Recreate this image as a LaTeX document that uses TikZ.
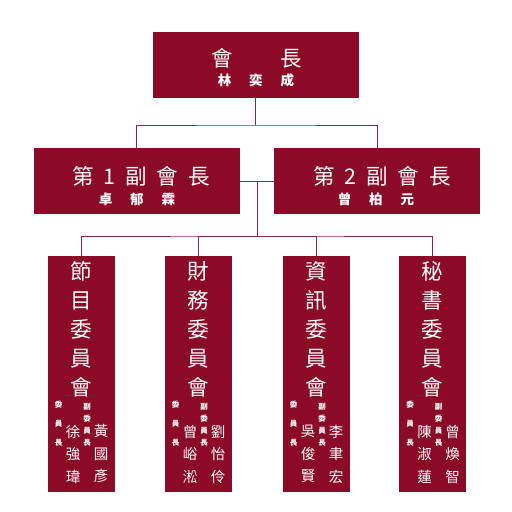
\documentclass[tikz,border=0pt]{standalone}
\usepackage{fontspec}
\setmainfont{Noto Sans CJK TC}
\usepackage{xcolor}
\usepackage{tikz}
\usetikzlibrary{positioning}

\definecolor{boxred}{RGB}{139,10,38}
\definecolor{linecol}{RGB}{125,45,65}

\begin{document}
\begin{tikzpicture}[
      x=1pt, y=-1pt,
      every node/.style={inner sep=0pt, text=white},
      box/.style={fill=boxred, minimum width=206pt, minimum height=66pt},
      cbox/.style={fill=boxred, minimum width=67pt, minimum height=236pt},
      headlbl/.style={font=\fontsize{21.5}{21.5}\selectfont},
      namelbl/.style={font=\bfseries\fontsize{13.5}{13.5}\selectfont},
      ctitle/.style={align=center, font=\fontsize{21.5}{29}\selectfont},
      cname/.style={align=center, font=\fontsize{14.5}{22.5}\selectfont},
      role/.style={align=center, font=\bfseries\fontsize{7.5}{19}\selectfont},
      subrole/.style={align=center, font=\bfseries\fontsize{7.5}{12}\selectfont},
      conn/.style={draw=linecol, line width=0.9pt},
    ]
    \useasboundingbox (0,0) rectangle (512,512);

    %% President
    \node[box] (pres) at (255.5,65) {};
    \node[headlbl] (presT) at (257,58) {會\hspace{48pt}長};
    \node[namelbl] (presN) at (256,80) {林\hspace{18pt}奕\hspace{18pt}成};

    %% Vice presidents
    \node[box] (vp1) at (136.5,181) {};
    \node[headlbl] (vp1T) at (141,176) {第\hspace{10pt}1\hspace{10pt}副\hspace{10pt}會\hspace{10pt}長};
    \node[namelbl] (vp1N) at (137,199) {卓\hspace{18pt}郁\hspace{18pt}霖};

    \node[box] (vp2) at (377,181) {};
    \node[headlbl] (vp2T) at (382,176) {第\hspace{10pt}2\hspace{10pt}副\hspace{10pt}會\hspace{10pt}長};
    \node[namelbl] (vp2N) at (376,199) {曾\hspace{18pt}柏\hspace{18pt}元};

    %% Committees
    \node[cbox] (prog) at (81,374) {};
    \node[ctitle] at (81,329.5) {節\\目\\委\\員\\會};
    \node[role]    at (58.5,424) {委\\員\\長};
    \node[subrole] at (87,425) {副\\委\\員\\長};
    \node[cname]   at (73,454) {徐\\強\\瑋};
    \node[cname]   at (101,454) {黃\\國\\彥};

    \node[cbox] (fin) at (198,374) {};
    \node[ctitle] at (198,329.5) {財\\務\\委\\員\\會};
    \node[role]    at (175.5,424) {委\\員\\長};
    \node[subrole] at (204,425) {副\\委\\員\\長};
    \node[cname]   at (190,454) {曾\\峪\\淞};
    \node[cname]   at (218,454) {劉\\怡\\伶};

    \node[cbox] (info) at (316,374) {};
    \node[ctitle] at (316,329.5) {資\\訊\\委\\員\\會};
    \node[role]    at (293.5,424) {委\\員\\長};
    \node[subrole] at (322,425) {副\\委\\員\\長};
    \node[cname]   at (308,454) {吳\\俊\\賢};
    \node[cname]   at (336,454) {李\\聿\\宏};

    \node[cbox] (sec) at (432.5,374) {};
    \node[ctitle] at (432.5,329.5) {秘\\書\\委\\員\\會};
    \node[role]    at (410,424) {委\\員\\長};
    \node[subrole] at (438.5,425) {副\\委\\員\\長};
    \node[cname]   at (424.5,454) {陳\\淑\\蓮};
    \node[cname]   at (452.5,454) {曾\\煥\\智};

    %% Junctions
    \coordinate (j1) at (255.5,125);
    \coordinate (j2) at (257,181);
    \coordinate (j3) at (257,236);

    %% Connectors
    \draw[conn] (pres.south) -- (j1);
    \draw[conn] (vp1.north) |- (j1) -| (vp2.north);
    \draw[conn] (vp1.east) -- (vp2.west);
    \draw[conn] (j2) -- (j3);
    \draw[conn] (prog.north) |- (j3) -| (sec.north);
    \draw[conn] (fin.north) |- (j3);
    \draw[conn] (info.north) |- (j3);
  \end{tikzpicture}
\end{document}
